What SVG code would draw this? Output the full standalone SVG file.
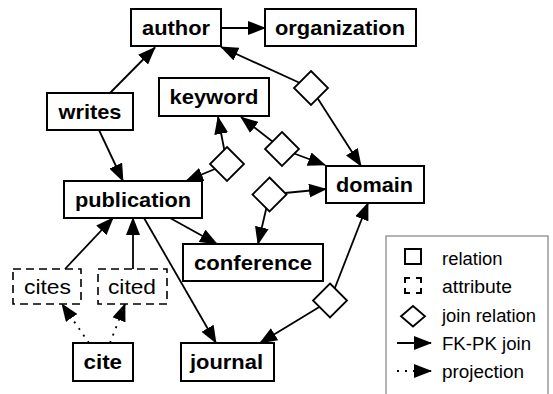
<svg xmlns="http://www.w3.org/2000/svg" width="553" height="394" viewBox="0 0 553 394">
<style>
.box{fill:#fff;stroke:#000;stroke-width:2}
.att{fill:#fff;stroke:#000;stroke-width:1.6;stroke-dasharray:8,5}
.dia{fill:#fff;stroke:#000;stroke-width:1.8}
.e{fill:none;stroke:#000;stroke-width:1.8;marker-end:url(#ah)}
.p{fill:none;stroke:#000;stroke-width:1.8;stroke-dasharray:2,6;marker-end:url(#ah)}
.t{font-family:"Liberation Sans",Arial,sans-serif;font-weight:bold;font-size:21px;fill:#000}
.r{font-family:"Liberation Sans",Arial,sans-serif;font-size:20.5px;fill:#000}
.l{font-family:"Liberation Sans",Arial,sans-serif;font-size:17.5px;fill:#000}
</style>
<defs>
<marker id="ah" markerUnits="userSpaceOnUse" markerWidth="18" markerHeight="14" refX="17" refY="7" orient="auto">
<path d="M0,0 L18,7 L0,14 z" fill="#000"/>
</marker>
<polygon id="dmd" points="0,-17 17,0 0,17 -17,0"/>
</defs>
<rect width="553" height="394" fill="#fff"/>
<g id="connectors">
<line class="e" x1="221" y1="28" x2="265" y2="28"/>
<line class="e" x1="110" y1="93" x2="155" y2="47.5"/>
<line class="e" x1="99" y1="130" x2="123" y2="181"/>
<line class="e" x1="311" y1="88" x2="221" y2="47"/>
<line class="e" x1="311" y1="88" x2="361" y2="166"/>
<line class="e" x1="282" y1="149" x2="241" y2="117"/>
<line class="e" x1="282" y1="149" x2="325" y2="165"/>
<line class="e" x1="227" y1="164" x2="218" y2="117"/>
<line class="e" x1="227" y1="164" x2="186" y2="181"/>
<line class="e" x1="269.5" y1="194.5" x2="326" y2="189"/>
<line class="e" x1="269.5" y1="194.5" x2="258" y2="244"/>
<line class="e" x1="330" y1="300.5" x2="368" y2="203"/>
<line class="e" x1="330" y1="300.5" x2="260" y2="343"/>
<line class="e" x1="170" y1="218" x2="217" y2="244"/>
<line class="e" x1="144" y1="218" x2="216" y2="343"/>
<line class="e" x1="65" y1="269" x2="113" y2="218"/>
<line class="e" x1="133" y1="269" x2="133" y2="218"/>
<line class="p" x1="89" y1="343" x2="62" y2="304"/>
<line class="p" x1="110" y1="343" x2="125" y2="304"/>
</g>
<g id="join-author-domain"><use href="#dmd" class="dia" x="311" y="88"/></g>
<g id="join-keyword-domain"><use href="#dmd" class="dia" x="282" y="149"/></g>
<g id="join-publication-keyword"><use href="#dmd" class="dia" x="227" y="164"/></g>
<g id="join-conference-domain"><use href="#dmd" class="dia" x="269.5" y="194.5"/></g>
<g id="join-journal-domain"><use href="#dmd" class="dia" x="330" y="300.5"/></g>
<g id="author"><rect class="box" x="131" y="9" width="90" height="37"/><text class="t" x="142" y="35" textLength="68" lengthAdjust="spacingAndGlyphs">author</text></g>
<g id="organization"><rect class="box" x="265" y="9" width="151" height="37"/><text class="t" x="275" y="35" textLength="130" lengthAdjust="spacingAndGlyphs">organization</text></g>
<g id="writes"><rect class="box" x="47" y="93" width="86" height="37"/><text class="t" x="58.5" y="119" textLength="63" lengthAdjust="spacingAndGlyphs">writes</text></g>
<g id="keyword"><rect class="box" x="159" y="78" width="110" height="38"/><text class="t" x="169.5" y="103.5" textLength="89" lengthAdjust="spacingAndGlyphs">keyword</text></g>
<g id="publication"><rect class="box" x="64" y="181" width="138" height="37"/><text class="t" x="75" y="206.5" textLength="116" lengthAdjust="spacingAndGlyphs">publication</text></g>
<g id="domain"><rect class="box" x="326" y="166" width="98" height="37"/><text class="t" x="336" y="191.5" textLength="77" lengthAdjust="spacingAndGlyphs">domain</text></g>
<g id="conference"><rect class="box" x="183" y="244" width="140" height="37"/><text class="t" x="194" y="269.5" textLength="118" lengthAdjust="spacingAndGlyphs">conference</text></g>
<g id="cites"><rect class="att" x="13" y="269" width="68" height="35"/><text class="r" x="24" y="294" textLength="47" lengthAdjust="spacingAndGlyphs">cites</text></g>
<g id="cited"><rect class="att" x="98" y="269" width="69" height="35"/><text class="r" x="108" y="294" textLength="48" lengthAdjust="spacingAndGlyphs">cited</text></g>
<g id="cite"><rect class="box" x="73" y="343" width="60" height="38"/><text class="t" x="83.5" y="369" textLength="38.5" lengthAdjust="spacingAndGlyphs">cite</text></g>
<g id="journal"><rect class="box" x="181" y="343" width="93" height="38"/><text class="t" x="190" y="369" textLength="73" lengthAdjust="spacingAndGlyphs">journal</text></g>
<g id="legend">
<rect x="386" y="236" width="162" height="170" fill="#fff" stroke="#999" stroke-width="1.5"/>
<rect x="405" y="249" width="16" height="15" fill="none" stroke="#000" stroke-width="2"/>
<path d="M405,283 V278 H410 M416,278 H421 V283 M405,288 V293 H410 M416,293 H421 V288" fill="none" stroke="#000" stroke-width="2"/>
<polygon points="413,306 425,316.3 413,326.5 401,316.3" fill="#fff" stroke="#000" stroke-width="1.8"/>
<line class="e" x1="397" y1="343" x2="431" y2="343"/>
<line class="p" x1="397" y1="371" x2="431" y2="371"/>
<text class="l" x="442" y="264.5" textLength="60.5" lengthAdjust="spacingAndGlyphs">relation</text>
<text class="l" x="442" y="293" textLength="70" lengthAdjust="spacingAndGlyphs">attribute</text>
<text class="l" x="442" y="321.5" textLength="94" lengthAdjust="spacingAndGlyphs">join relation</text>
<text class="l" x="442" y="350" textLength="89" lengthAdjust="spacingAndGlyphs">FK-PK join</text>
<text class="l" x="442" y="378" textLength="82" lengthAdjust="spacingAndGlyphs">projection</text>
</g>
</svg>
